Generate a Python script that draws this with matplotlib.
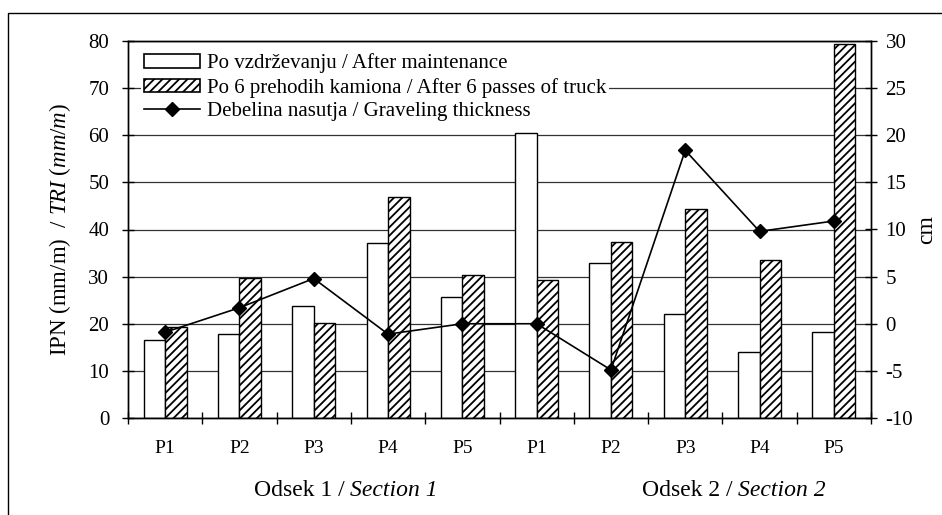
import numpy as np
import matplotlib
matplotlib.use("Agg")
import matplotlib.pyplot as plt
from matplotlib.patches import Rectangle, Patch
from matplotlib.lines import Line2D

plt.rcParams['font.family'] = 'Liberation Serif'
plt.rcParams['mathtext.fontset'] = 'custom'
plt.rcParams['mathtext.rm'] = 'Liberation Serif'
plt.rcParams['mathtext.it'] = 'Liberation Serif:italic'
plt.rcParams['axes.unicode_minus'] = False
plt.rcParams['hatch.linewidth'] = 1.3

# data
points = ["P1", "P2", "P3", "P4", "P5", "P1", "P2", "P3", "P4", "P5"]
after_maintenance = [16.5, 17.8, 23.8, 37.1, 25.6, 60.4, 32.8, 22.1, 13.9, 18.2]
after_6_passes = [19.4, 29.8, 20.2, 46.8, 30.4, 29.2, 37.4, 44.4, 33.6, 79.3]
gravel_cm = [-0.9, 1.7, 4.8, -1.1, 0.0, 0.0, -4.9, 18.4, 9.8, 10.9]
section_si = ["Odsek 1 /", "Odsek 2 /"]
section_en = ["Section 1", "Section 2"]

W, H = 942, 515
fig = plt.figure(figsize=(W / 100, H / 100), dpi=100)
ax = fig.add_axes([128 / W, 1 - 418 / H, (871 - 128) / W, (418 - 41) / H])

x = np.arange(len(points))
bw = 0.29
ax.bar(x - bw / 2, after_maintenance, bw, color='white', edgecolor='black', linewidth=1.0, zorder=2)
ax.bar(x + bw / 2, after_6_passes, bw, color='white', edgecolor='black', hatch='////', linewidth=1.0, zorder=2)

ax.set_xlim(-0.5, len(points) - 0.5)
ax.set_ylim(0, 80)
ax.set_yticks(np.arange(0, 81, 10))
ax.yaxis.grid(True, color='#333333', linewidth=0.9)
ax.set_axisbelow(True)

# category boundaries as ticks, labels at centres
ax.set_xticks(np.arange(-0.5, len(points), 1))
ax.set_xticklabels([])
ax.set_xticks(x, minor=True)
ax.set_xticklabels(points, minor=True, fontsize=14)
ax.tick_params(axis='x', which='major', direction='inout', length=9, width=1)
ax.tick_params(axis='x', which='minor', length=0, pad=16)
ax.tick_params(axis='y', direction='inout', length=9, width=1, labelsize=15, pad=9)
ax.set_ylabel("IPN (mm/m)  / $\\mathit{TRI\\ (mm/m)}$", fontsize=16.5, labelpad=11)

ax2 = ax.twinx()
ax2.plot(x, gravel_cm, color='black', linewidth=1.2, marker='D', markersize=7, zorder=3)
ax2.set_ylim(-10, 30)
ax2.set_yticks(np.arange(-10, 31, 5))
ax2.tick_params(axis='y', direction='inout', length=9, width=1, labelsize=15, pad=6)
ax2.set_ylabel("cm", fontsize=17, labelpad=2)

for a in (ax, ax2):
    for s in a.spines.values():
        s.set_linewidth(1.0)

handles = [
    Patch(facecolor='white', edgecolor='black', linewidth=1.2),
    Patch(facecolor='white', edgecolor='black', hatch='////', linewidth=1.2),
    Line2D([], [], color='black', linewidth=1.2, marker='D', markersize=7),
]
labels = [
    "Po vzdrževanju / After maintenance",
    "Po 6 prehodih kamiona / After 6 passes of truck",
    "Debelina nasutja / Graveling thickness",
]
leg = ax2.legend(handles, labels, loc='upper left', bbox_to_anchor=(0.018, 0.975),
                 fontsize=15, handlelength=2.65, handleheight=0.6, handletextpad=0.33,
                 labelspacing=0.2, borderpad=0.15, borderaxespad=0,
                 frameon=True, fancybox=False, framealpha=1)
leg.get_frame().set_edgecolor('white')
leg.get_frame().set_linewidth(0)

# section captions: Slovene upright, English italic
for xs, si, en in zip([345, 733], section_si, section_en):
    fig.text(xs / W, 1 - 490 / H, si, fontsize=17, ha='right', va='center')
    fig.text((xs + 5) / W, 1 - 490 / H, en, fontsize=17, ha='left', va='center', style='italic')

# outer frame of the figure
fig.patches.append(Rectangle((8 / W, -0.2), 1.2, 1 - 13 / H + 0.2, transform=fig.transFigure,
                             fill=False, edgecolor='black', linewidth=1.0))

fig.savefig("out.png", dpi=100)
